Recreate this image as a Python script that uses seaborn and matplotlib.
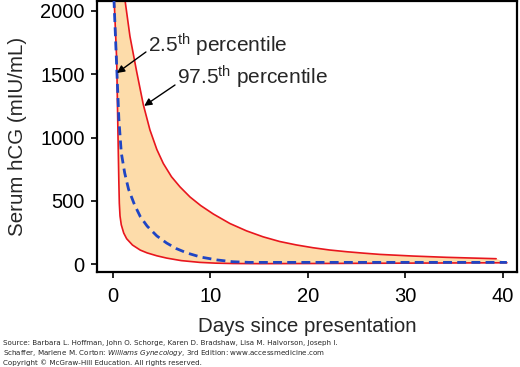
import matplotlib
matplotlib.use("Agg")
import matplotlib.pyplot as plt
import seaborn as sns
import pandas as pd

# ---- data ----
lower_days = [0.05, 0.12, 0.25, 0.38, 0.46, 0.54, 0.6, 0.65, 0.72, 0.85, 1.1, 1.4, 2.0,
              2.8, 3.5, 4.5, 5.5, 7.0, 8.9, 10.5, 12.3, 15, 20, 30, 40.4]
lower_hcg = [2300, 2087, 1850, 1613, 1250, 901, 650, 480, 380, 310, 245, 200, 150,
             110, 88, 65, 47, 27, 13, 7, 4, 3, 4, 7, 10]

upper_days = [0.85, 1.23, 1.74, 2.43, 3.11, 3.79, 4.5, 5.16, 6.0, 6.87, 7.9, 9.0, 10.3,
              12.0, 13.7, 15.4, 17.1, 18.8, 20.5, 22.2, 24.0, 25.7, 27.4, 30.8, 34.2, 39.3]
upper_hcg = [2300, 2087, 1800, 1520, 1260, 1060, 905, 795, 690, 610, 530, 462, 395,
             320, 262, 215, 178, 151, 129, 111, 97, 86, 76, 63, 53, 42]

mean_days = [0.0, 0.1, 0.38, 0.6, 0.85, 1.2, 1.6, 2.2, 2.8, 3.5, 4.5, 5.5, 6.5, 7.6,
             9.0, 10.7, 12.3, 14.0, 40.4]
mean_hcg = [2300, 2087, 1560, 1150, 880, 720, 590, 470, 375, 300, 222, 166, 122, 87,
            55, 32, 18, 13, 13]

x_ticks = [0, 10, 20, 30, 40]
y_ticks = [0, 500, 1000, 1500, 2000]

footer = [
    "Source: Barbara L. Hoffman, John O. Schorge, Karen D. Bradshaw, Lisa M. Halvorson, Joseph I.",
    r"Schaffer, Marlene M. Corton: $\it{Williams\ Gynecology}$, 3rd Edition: www.accessmedicine.com",
    "Copyright \u00a9 McGraw-Hill Education. All rights reserved.",
]

# ---- style ----
sns.set_style("ticks")
plt.rcParams["font.family"] = ["Liberation Sans", "DejaVu Sans"]
plt.rcParams["mathtext.fontset"] = "custom"
plt.rcParams["mathtext.rm"] = "Liberation Sans"
plt.rcParams["mathtext.it"] = "Liberation Sans:italic"

RED = "#e8161e"
BLUE = "#1f45c4"
FILL = "#fddcaa"

fig = plt.figure(figsize=(5.2, 3.67), dpi=100)
ax = fig.add_axes([97 / 520, 1 - 272 / 367, 420 / 520, 271 / 367])

# fill band between the percentile curves
poly_x = list(upper_days) + list(reversed(lower_days))
poly_y = list(upper_hcg) + list(reversed(lower_hcg))
ax.fill(poly_x, poly_y, color=FILL, lw=0, zorder=1)

lo = pd.DataFrame({"day": lower_days, "hcg": lower_hcg})
up = pd.DataFrame({"day": upper_days, "hcg": upper_hcg})
mn = pd.DataFrame({"day": mean_days, "hcg": mean_hcg})
sns.lineplot(data=lo, x="day", y="hcg", ax=ax, color=RED, lw=1.2, sort=False,
             estimator=None, zorder=2)
sns.lineplot(data=up, x="day", y="hcg", ax=ax, color=RED, lw=1.2, sort=False,
             estimator=None, zorder=2)
sns.lineplot(data=mn, x="day", y="hcg", ax=ax, color=BLUE, lw=2.0, sort=False,
             estimator=None, zorder=3)
ax.lines[-1].set_dashes([3.2, 1.9])

ax.set_xlim(-1.64, 41.44)
ax.set_ylim(-63, 2079)
ax.set_xticks(x_ticks)
ax.set_yticks(y_ticks)
ax.set_xticklabels([str(v) for v in x_ticks])
ax.set_yticklabels([str(v) for v in y_ticks])
ax.tick_params(axis="both", labelsize=14.5, length=4.5, width=1.2, colors="black")
ax.tick_params(axis="y", pad=4.5)
ax.tick_params(axis="x", pad=6)

for s in ax.spines.values():
    s.set_visible(True)
    s.set_linewidth(1.6)
    s.set_color("black")

ax.set_xlabel("Days since presentation", fontsize=14.8, labelpad=8)
ax.set_ylabel("Serum hCG (mIU/mL)", fontsize=14.8, labelpad=9)

# annotations
ax.text(3.6, 1731, r"2.5$^{\mathrm{th}}$ percentile", fontsize=15, va="center", ha="left")
ax.annotate("", xy=(0.41, 1510), xytext=(3.38, 1676),
            arrowprops=dict(arrowstyle="-|>", color="black", lw=1.0, mutation_scale=11,
                            shrinkA=0, shrinkB=0))
ax.text(6.56, 1478, r"97.5$^{\mathrm{th}}$ percentile", fontsize=15, va="center", ha="left")
ax.annotate("", xy=(3.2, 1250), xytext=(6.36, 1415),
            arrowprops=dict(arrowstyle="-|>", color="black", lw=1.0, mutation_scale=11,
                            shrinkA=0, shrinkB=0))

# footer
for i, line in enumerate(footer):
    fig.text(3 / 520, 1 - (343 + 10 * i) / 367, line, fontsize=5.1, va="center",
             ha="left", family="DejaVu Sans", math_fontfamily="dejavusans")

fig.savefig("out.png", dpi=100)
